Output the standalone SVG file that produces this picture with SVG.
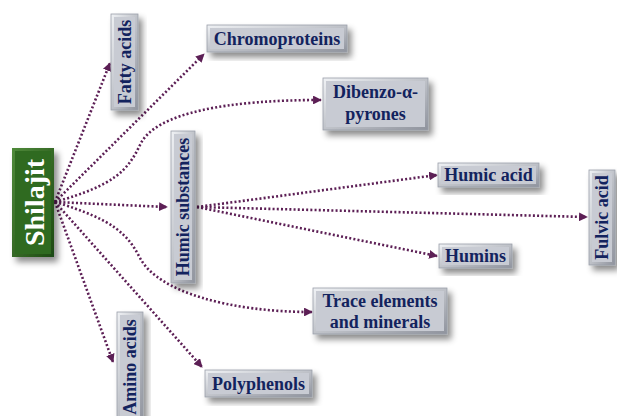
<svg xmlns="http://www.w3.org/2000/svg" width="617" height="416" viewBox="0 0 617 416">
<style>
.box{fill:url(#gb);stroke:#9a9ea8;stroke-width:0.8}
.inner{fill:#c8cbd3}
.lbl{font-family:"Liberation Serif","Times New Roman",serif;font-weight:bold;font-size:18px;fill:#13235e;text-anchor:middle;dominant-baseline:central}
.conn{fill:none;stroke:#5c1f55;stroke-width:2.6;stroke-dasharray:2 2.2;marker-end:url(#ah)}
</style>
<defs>
<linearGradient id="gb" x1="0" y1="0" x2="1" y2="1">
<stop offset="0" stop-color="#f0f2f5"/>
<stop offset="1" stop-color="#8f939d"/>
</linearGradient>
<linearGradient id="gg" x1="0" y1="0" x2="1" y2="1">
<stop offset="0" stop-color="#4f8a3a"/>
<stop offset="1" stop-color="#1d4a12"/>
</linearGradient>
<filter id="sh" x="-30%" y="-30%" width="160%" height="160%">
<feDropShadow dx="4" dy="5" stdDeviation="3" flood-color="#000" flood-opacity="0.45"/>
</filter>
<marker id="ah" viewBox="0 0 10 10" refX="9" refY="5" markerWidth="3.4" markerHeight="3.4" orient="auto" markerUnits="strokeWidth">
<path d="M0,0 L10,5 L0,10 z" fill="#5c1f55"/>
</marker>
</defs>

<g id="connectors">
<path class="conn" d="M55,202 L110,63"/>
<path class="conn" d="M55,202 L204,54"/>
<path class="conn" d="M55,202 C115,185 128,170 140,145 C155,112 230,100 321,100"/>
<path class="conn" d="M55,202 L167,207"/>
<path class="conn" d="M55,202 C115,220 128,235 140,258 C158,292 230,312 312,312"/>
<path class="conn" d="M55,202 L202,367"/>
<path class="conn" d="M55,202 L113,362"/>
<path class="conn" d="M197,207 L437,175"/>
<path class="conn" d="M197,207 L587,217"/>
<path class="conn" d="M197,207 L437,256"/>
</g>

<g id="shilajit">
<rect x="12" y="148" width="42" height="109" fill="url(#gg)" filter="url(#sh)"/>
<rect x="15" y="151" width="36" height="103" fill="#2f6a20"/>
<text x="34" y="202.5" transform="rotate(-90 34 202.5)" style="font-family:'Liberation Serif','Times New Roman',serif;font-weight:bold;font-size:28px;fill:#ffffff;text-anchor:middle;dominant-baseline:central">Shilajit</text>
</g>

<g id="fatty-acids">
<rect class="box" x="111" y="14" width="27" height="96" filter="url(#sh)"/>
<rect class="inner" x="114" y="17" width="21" height="90"/>
<text class="lbl" x="124.5" y="62" transform="rotate(-90 124.5 62)">Fatty acids</text>
</g>

<g id="chromoproteins">
<rect class="box" x="207" y="25" width="140" height="27" filter="url(#sh)"/>
<rect class="inner" x="210" y="28" width="134" height="21"/>
<text class="lbl" x="277" y="38.5">Chromoproteins</text>
</g>

<g id="dibenzo">
<rect class="box" x="323" y="78" width="105" height="52" filter="url(#sh)"/>
<rect class="inner" x="326" y="81" width="99" height="46"/>
<text class="lbl" x="375.5" y="92">Dibenzo-α-</text>
<text class="lbl" x="375.5" y="114">pyrones</text>
</g>

<g id="humic-substances">
<rect class="box" x="171" y="131" width="24" height="152" filter="url(#sh)"/>
<rect class="inner" x="174" y="134" width="18" height="146"/>
<text class="lbl" x="183" y="207" transform="rotate(-90 183 207)">Humic substances</text>
</g>

<g id="humic-acid">
<rect class="box" x="438" y="163" width="101" height="24" filter="url(#sh)"/>
<rect class="inner" x="441" y="166" width="95" height="18"/>
<text class="lbl" x="488.5" y="175">Humic acid</text>
</g>

<g id="fulvic-acid">
<rect class="box" x="589" y="170" width="26" height="95" filter="url(#sh)"/>
<rect class="inner" x="592" y="173" width="20" height="89"/>
<text class="lbl" x="602" y="217.5" transform="rotate(-90 602 217.5)">Fulvic acid</text>
</g>

<g id="humins">
<rect class="box" x="439" y="244" width="73" height="24" filter="url(#sh)"/>
<rect class="inner" x="442" y="247" width="67" height="18"/>
<text class="lbl" x="475.5" y="256">Humins</text>
</g>

<g id="trace-elements">
<rect class="box" x="313" y="288" width="134" height="46" filter="url(#sh)"/>
<rect class="inner" x="316" y="291" width="128" height="40"/>
<text class="lbl" x="380" y="301">Trace elements</text>
<text class="lbl" x="380" y="322">and minerals</text>
</g>

<g id="polyphenols">
<rect class="box" x="205" y="370" width="107" height="27" filter="url(#sh)"/>
<rect class="inner" x="208" y="373" width="101" height="21"/>
<text class="lbl" x="258.5" y="383.5">Polyphenols</text>
</g>

<g id="amino-acids">
<rect class="box" x="117" y="312" width="26" height="110" filter="url(#sh)"/>
<rect class="inner" x="120" y="315" width="20" height="104"/>
<text class="lbl" x="130" y="367" transform="rotate(-90 130 367)">Amino acids</text>
</g>
</svg>
